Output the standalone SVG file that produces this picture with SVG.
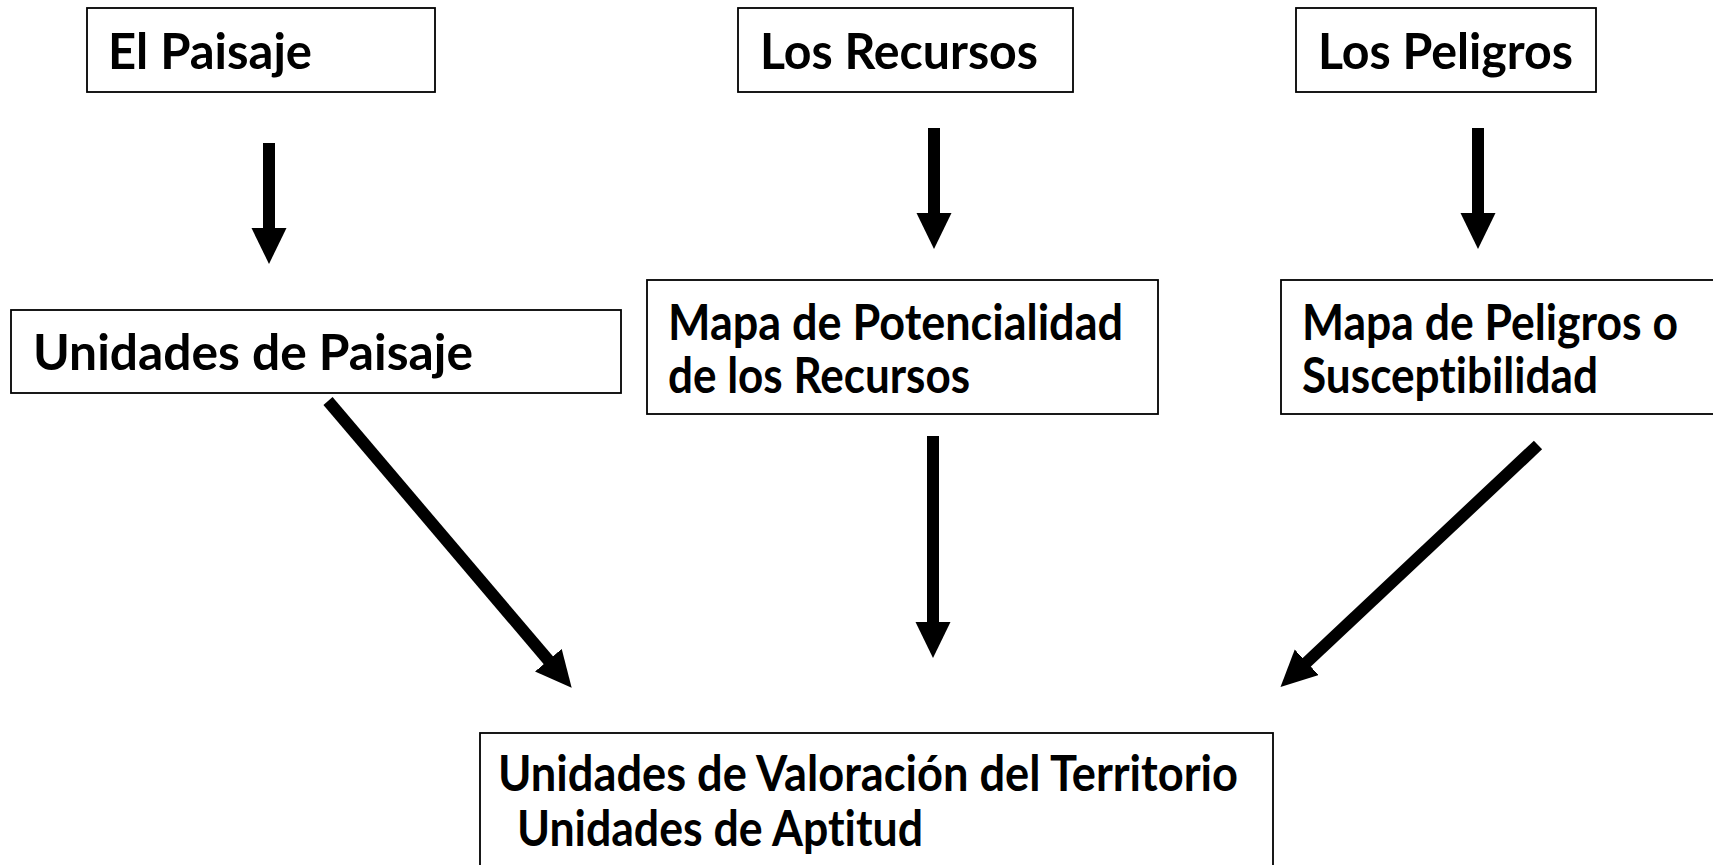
<svg xmlns="http://www.w3.org/2000/svg" width="1713" height="865" viewBox="0 0 1713 865">
<style>
.box{fill:#fff;stroke:#000;stroke-width:1.8}
.t{font-family:Lato,"Liberation Sans",sans-serif;font-weight:bold;font-size:50px;fill:#000;font-variant-ligatures:none;font-feature-settings:"liga" 0,"clig" 0}
.c{stroke:#000;stroke-width:12;fill:none;stroke-linecap:butt}
</style>
<defs>
<marker id="ah" markerUnits="userSpaceOnUse" markerWidth="40" markerHeight="40" refX="1" refY="17.5" orient="auto">
<path d="M0,0 L36,17.5 L0,35 z" fill="#000"/>
</marker>
</defs>
<rect width="1713" height="865" fill="#fff"/>
<g id="connectors">
<line class="c" x1="269" y1="143" x2="269" y2="229" marker-end="url(#ah)"/>
<line class="c" x1="934" y1="128" x2="934" y2="214" marker-end="url(#ah)"/>
<line class="c" x1="1478" y1="128" x2="1478" y2="214" marker-end="url(#ah)"/>
<line class="c" x1="933" y1="436" x2="933" y2="623" marker-end="url(#ah)"/>
<line class="c" x1="328" y1="401" x2="549" y2="661" marker-end="url(#ah)"/>
<line class="c" x1="1538" y1="445" x2="1306" y2="663" marker-end="url(#ah)"/>
</g>
<g id="el-paisaje">
<rect class="box" x="87" y="8" width="348" height="84"/>
<text class="t" x="108" y="69" textLength="204" lengthAdjust="spacingAndGlyphs">El Paisaje</text>
</g>
<g id="los-recursos">
<rect class="box" x="738" y="8" width="335" height="84"/>
<text class="t" x="760" y="69" textLength="278" lengthAdjust="spacingAndGlyphs">Los Recursos</text>
</g>
<g id="los-peligros">
<rect class="box" x="1296" y="8" width="300" height="84"/>
<text class="t" x="1318" y="69" textLength="255" lengthAdjust="spacingAndGlyphs">Los Peligros</text>
</g>
<g id="unidades-paisaje">
<rect class="box" x="11" y="310" width="610" height="83"/>
<text class="t" x="33" y="370" textLength="440" lengthAdjust="spacingAndGlyphs">Unidades de Paisaje</text>
</g>
<g id="mapa-potencialidad">
<rect class="box" x="647" y="280" width="511" height="134"/>
<text class="t" x="668" y="340" textLength="455" lengthAdjust="spacingAndGlyphs">Mapa de Potencialidad</text>
<text class="t" x="668" y="393" textLength="302" lengthAdjust="spacingAndGlyphs">de los Recursos</text>
</g>
<g id="mapa-peligros">
<rect class="box" x="1281" y="280" width="440" height="134"/>
<text class="t" x="1302" y="340" textLength="376" lengthAdjust="spacingAndGlyphs">Mapa de Peligros o</text>
<text class="t" x="1302" y="393" textLength="296" lengthAdjust="spacingAndGlyphs">Susceptibilidad</text>
</g>
<g id="unidades-valoracion">
<rect class="box" x="480" y="733" width="793" height="140"/>
<text class="t" x="498" y="791" textLength="740" lengthAdjust="spacingAndGlyphs">Unidades de Valoración del Territorio</text>
<text class="t" x="517" y="846" textLength="406" lengthAdjust="spacingAndGlyphs">Unidades de Aptitud</text>
</g>
</svg>
